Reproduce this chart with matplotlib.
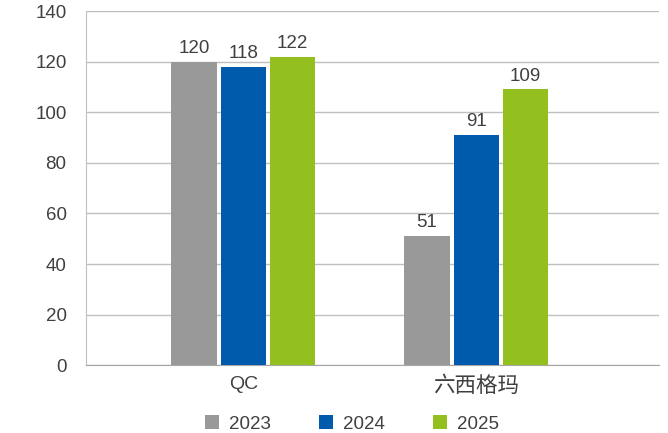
import matplotlib
matplotlib.use("Agg")
import matplotlib.pyplot as plt
from matplotlib.patches import Patch

categories = ["QC", "六西格玛"]
series_names = ["2023", "2024", "2025"]
values_2023 = [120, 51]
values_2024 = [118, 91]
values_2025 = [122, 109]
y_ticks = [0, 20, 40, 60, 80, 100, 120, 140]

colors = ["#999999", "#005BAC", "#93C01F"]
text_color = "#404040"
plt.rcParams['font.family'] = ['Liberation Sans', 'Noto Sans CJK SC', 'DejaVu Sans']

fig = plt.figure(figsize=(6.68, 4.33), dpi=100)
ax = fig.add_axes([86/668, 1 - 365.3/433, (659-86)/668, (365.3-11)/433])

series = [values_2023, values_2024, values_2025]
step = 49.4 / 233
width = 45.5 / 233
x = list(range(len(categories)))
for i, (name, vals) in enumerate(zip(series_names, series)):
    pos = [xi + (i - 1) * step for xi in x]
    bars = ax.bar(pos, vals, width=width, color=colors[i], label=name, zorder=3)
    for b, v in zip(bars, vals):
        ax.annotate(str(v), (b.get_x() + b.get_width() / 2, v),
                    xytext=(0, 3.5), textcoords="offset points",
                    ha="center", va="bottom", fontsize=13.5, color=text_color)

ax.set_xlim(-0.675, 1.784)
ax.set_ylim(0, 140)
ax.set_yticks(y_ticks)
ax.set_xticks(x)
ax.set_xticklabels(categories)
ax.yaxis.grid(True, color="#BFBFBF", linewidth=1.0, zorder=0)
ax.set_axisbelow(True)
for s in ["top", "right"]:
    ax.spines[s].set_visible(False)
ax.spines["left"].set_color("#BFBFBF")
ax.spines["bottom"].set_color("#A6A6A6")
ax.tick_params(axis="both", length=0, labelsize=13.5, labelcolor=text_color)
ax.tick_params(axis="y", pad=14)
ax.tick_params(axis="x", pad=8)
for lbl in ax.get_xticklabels():
    if lbl.get_text() != "QC":
        lbl.set_fontsize(15.5)
    else:
        lbl.set_fontsize(14)

handles = [Patch(facecolor=c, edgecolor="none") for c in colors]
fig.legend(handles, series_names, loc="center", bbox_to_anchor=(352/668, 1 - 424/433),
           ncol=3, frameon=False, fontsize=13.5, labelcolor=text_color,
           handlelength=0.75, handleheight=0.75, handletextpad=0.5, columnspacing=2.6,
           borderpad=0)

fig.savefig("out.png", dpi=100)
